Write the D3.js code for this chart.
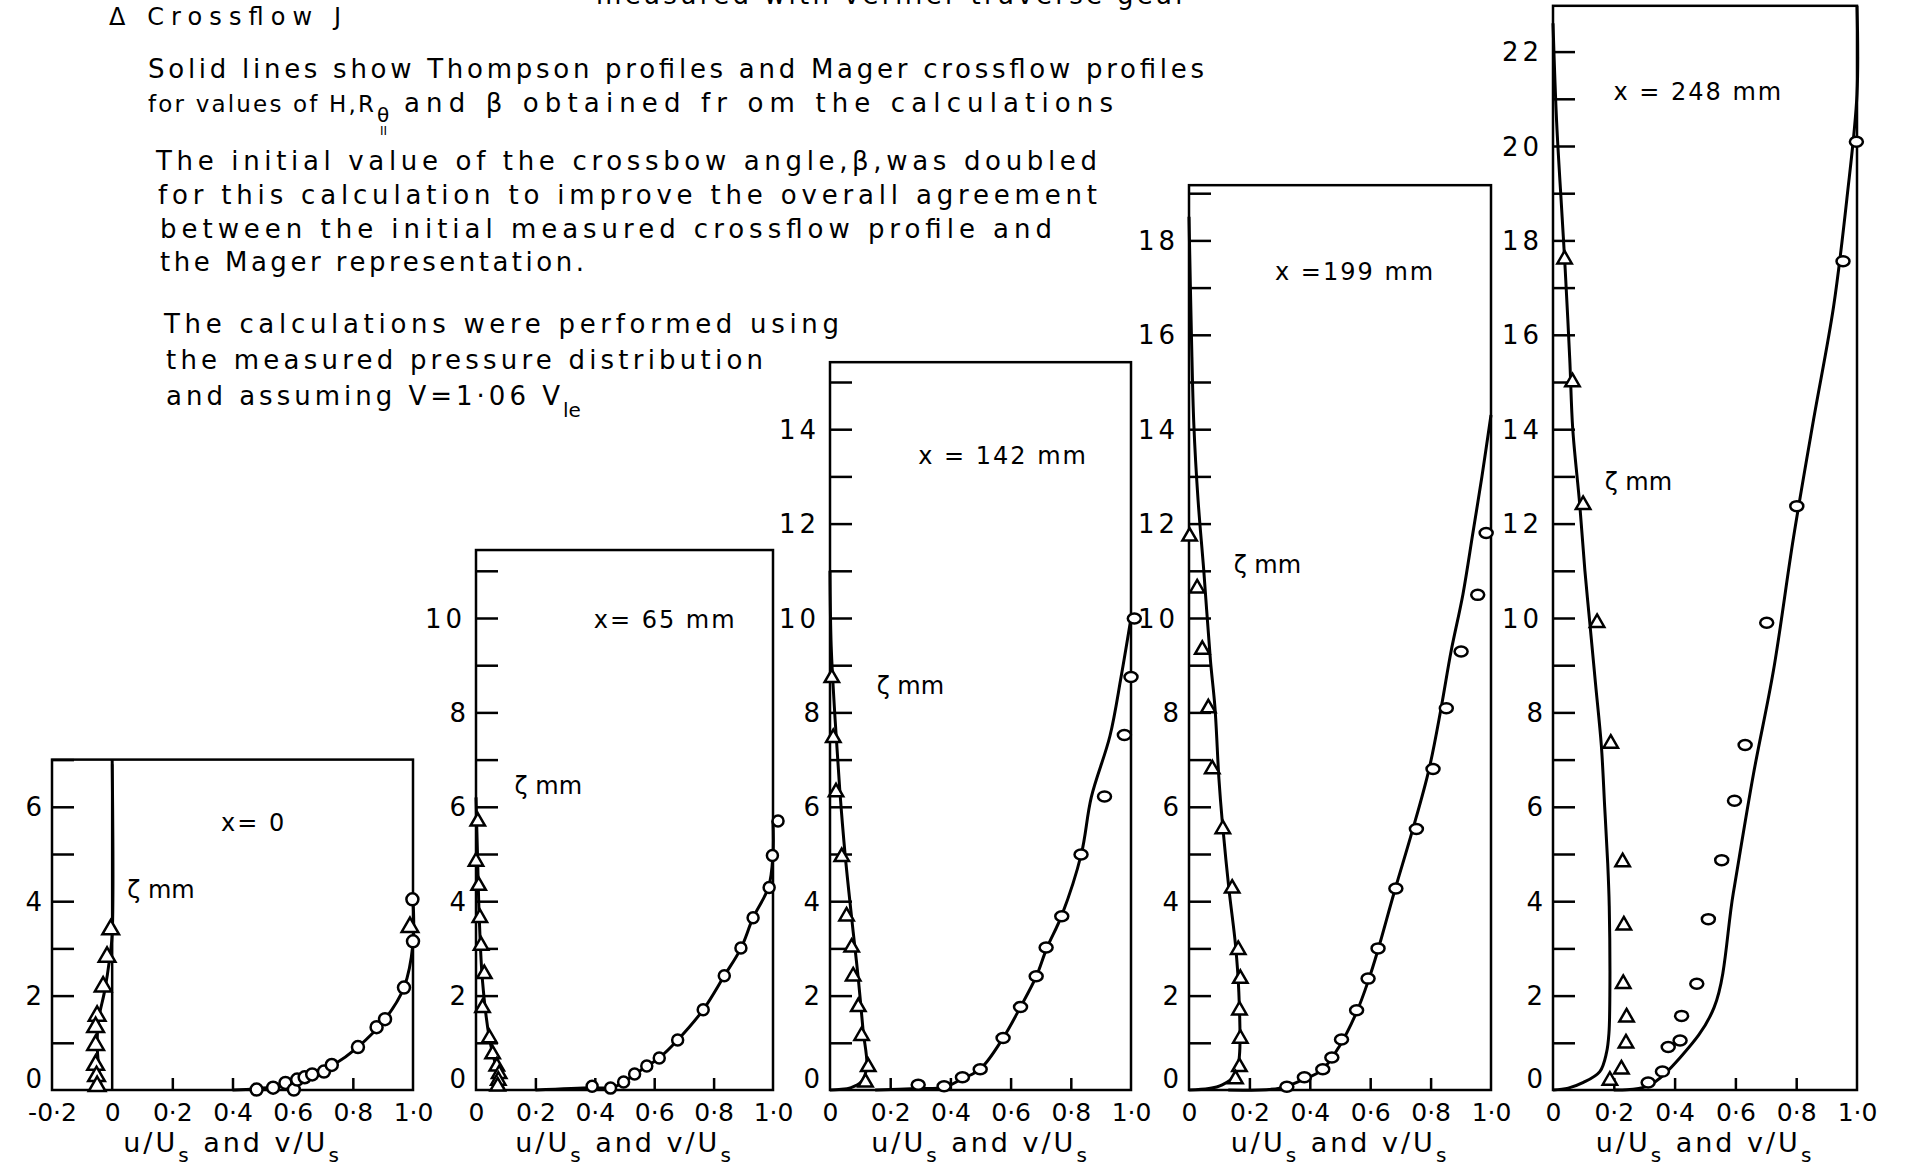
<!DOCTYPE html>
<html>
<head>
<meta charset="utf-8">
<script src="https://cdn.jsdelivr.net/npm/d3@7"></script>
<style>
body { margin: 0; background: #fff; }
svg { display: block; }
text { font-family: "DejaVu Sans", sans-serif; fill: #000; }
</style>
</head>
<body>
<svg></svg>
<script>
var width = 1907, height = 1171

// stations and axis extents (zeta in mm, velocity ratio u/Us)
var stations = ["x= 0", "x= 65 mm", "x = 142 mm", "x =199 mm", "x = 248 mm"]
var zetaTop = [7.0, 11.44, 15.42, 19.17, 22.97]
var uMin = [-0.2, 0, 0, 0, 0]
var xTickLabels = ["-0·2", "0", "0·2", "0·4", "0·6", "0·8", "1·0"]

// measured streamwise profile (circles) [u/Us, zeta]
var stream0 = [[0.48,0.01],[0.535,0.05],[0.576,0.15],[0.604,0.01],[0.615,0.22],[0.64,0.27],[0.665,0.33],[0.704,0.39],[0.73,0.53],[0.817,0.91],[0.879,1.33],[0.907,1.5],[0.97,2.17],[1.0,3.15],[0.998,4.04]]
var stream1 = [[0.391,0.08],[0.453,0.04],[0.497,0.17],[0.534,0.34],[0.575,0.51],[0.617,0.68],[0.679,1.06],[0.765,1.7],[0.836,2.42],[0.892,3.01],[0.933,3.65],[0.987,4.29],[0.998,4.97],[1.017,5.7]]
var stream2 = [[0.293,0.11],[0.379,0.08],[0.44,0.27],[0.499,0.44],[0.575,1.1],[0.633,1.76],[0.685,2.41],[0.718,3.02],[0.77,3.68],[0.834,4.99],[0.912,6.22],[0.978,7.52],[1.0,8.75],[1.011,9.99]]
var stream3 = [[0.324,0.07],[0.382,0.27],[0.443,0.44],[0.473,0.69],[0.505,1.07],[0.555,1.69],[0.593,2.36],[0.626,3.0],[0.685,4.27],[0.753,5.53],[0.808,6.8],[0.852,8.09],[0.901,9.29],[0.956,10.49],[0.984,11.8]]
var stream4 = [[0.313,0.16],[0.36,0.39],[0.379,0.91],[0.418,1.05],[0.423,1.57],[0.473,2.25],[0.511,3.62],[0.555,4.87],[0.597,6.13],[0.632,7.31],[0.703,9.9],[0.802,12.37],[0.954,17.56],[0.998,20.09]]

// measured crossflow profile (triangles)
var cross0 = [[-0.005,3.4],[-0.017,2.82],[-0.03,2.19],[-0.05,1.57],[-0.055,1.33],[-0.055,0.95],[-0.055,0.53],[-0.052,0.29],[-0.05,0.08],[0.99,3.45]]
var cross1 = [[0.006,5.69],[0,4.84],[0.009,4.33],[0.013,3.65],[0.017,3.06],[0.028,2.46],[0.022,1.74],[0.045,1.1],[0.056,0.76],[0.07,0.5],[0.078,0.34],[0.075,0.2],[0.073,0.08]]
var cross2 = [[0.006,8.73],[0.011,7.46],[0.02,6.31],[0.039,4.94],[0.055,3.68],[0.072,3.02],[0.077,2.41],[0.094,1.76],[0.105,1.15],[0.127,0.49],[0.118,0.16]]
var cross3 = [[0.002,11.73],[0.027,10.63],[0.044,9.33],[0.064,8.09],[0.077,6.8],[0.112,5.53],[0.143,4.27],[0.163,2.97],[0.17,2.36],[0.167,1.69],[0.17,1.09],[0.167,0.49],[0.154,0.23]]
var cross4 = [[0.038,17.6],[0.064,15.0],[0.099,12.4],[0.145,9.9],[0.19,7.34],[0.229,4.83],[0.233,3.49],[0.231,2.25],[0.242,1.54],[0.24,0.99],[0.225,0.44],[0.187,0.2]]

// calculated Thompson profiles (solid lines)
var streamCalc0 = [[0.4,0],[0.48,0.03],[0.58,0.12],[0.665,0.3],[0.73,0.51],[0.817,0.91],[0.907,1.5],[0.97,2.17],[1.0,3.1],[1.0,4.04]]
var streamCalc1 = [[0.2,0],[0.391,0.05],[0.453,0.05],[0.497,0.16],[0.534,0.33],[0.575,0.5],[0.617,0.68],[0.679,1.06],[0.765,1.7],[0.836,2.42],[0.892,3.0],[0.933,3.65],[0.985,4.3],[1.0,5.0],[1.0,5.7]]
var streamCalc2 = [[0.15,0],[0.29,0.03],[0.38,0.06],[0.44,0.24],[0.5,0.45],[0.575,1.1],[0.633,1.76],[0.685,2.4],[0.72,3.0],[0.77,3.7],[0.835,5.0],[0.868,6.2],[0.93,7.5],[0.967,8.75],[1.0,10.0]]
var streamCalc3 = [[0.13,0],[0.3,0.04],[0.37,0.2],[0.44,0.42],[0.5,0.95],[0.555,1.65],[0.593,2.3],[0.625,2.95],[0.68,4.2],[0.74,5.5],[0.795,6.8],[0.835,8.1],[0.868,9.3],[0.907,10.5],[0.94,11.8],[0.97,13.0],[1.0,14.3]]
var streamCalc4 = [[0.2,0],[0.31,0.08],[0.42,0.7],[0.53,1.75],[0.593,4.17],[0.659,6.68],[0.725,8.88],[0.791,11.7],[0.857,14.2],[0.923,16.6],[0.967,18.9],[1.0,21.1],[1.0,22.97]]

// calculated Mager crossflow profiles (solid lines)
var crossCalc0 = [[-0.035,0],[-0.045,0.5],[-0.05,1.0],[-0.045,1.5],[-0.025,2.1],[-0.008,2.8],[0,3.3],[0,7.0]]
var crossCalc1 = [[0,6.2],[0.005,5.0],[0.011,3.65],[0.022,2.3],[0.045,1.1],[0.067,0.51],[0.085,0.15],[0.095,0]]
var crossCalc2 = [[0,11],[0.004,9.4],[0.017,7.85],[0.032,6.4],[0.05,5.0],[0.077,3.35],[0.094,2.36],[0.11,1.26],[0.122,0.49],[0.105,0.18],[0.07,0.05],[0.03,0.01],[0,0]]
var crossCalc3 = [[0,18.5],[0.008,16],[0.016,14.1],[0.03,12.5],[0.049,11],[0.071,9.1],[0.086,8.1],[0.099,6.6],[0.11,5.7],[0.132,4.27],[0.154,3.07],[0.165,2.07],[0.167,0.73],[0.154,0.33],[0.11,0.11],[0.066,0.03],[0,0]]
var crossCalc4 = [[0,22.6],[0.012,20.5],[0.03,18.5],[0.04,17.4],[0.055,15.5],[0.065,14],[0.088,12.4],[0.105,11],[0.121,9.9],[0.14,8.6],[0.159,7.3],[0.17,6.0],[0.18,4.8],[0.185,3.9],[0.187,2.0],[0.184,1.2],[0.176,0.79],[0.154,0.39],[0.1,0.16],[0.05,0.04],[0,0]]

var streams = [stream0, stream1, stream2, stream3, stream4]
var crosses = [cross0, cross1, cross2, cross3, cross4]
var streamCalcs = [streamCalc0, streamCalc1, streamCalc2, streamCalc3, streamCalc4]
var crossCalcs = [crossCalc0, crossCalc1, crossCalc2, crossCalc3, crossCalc4]

// layout
var baseY = 1090, pxPerMm = 47.2
var panelLeft = [52, 476, 830, 1189, 1553],
    panelRight = [413, 773, 1131, 1491, 1857]
var stationPos = [[0.47, 5.66], [0.637, 9.97], [0.575, 13.45], [0.55, 17.33], [0.478, 21.15]]
var zetaPos = [[0.05, 4.24], [0.13, 6.45], [0.155, 8.56], [0.148, 11.13], [0.17, 12.9]]
var circleR = [[6, 6], [5.5, 5.5], [6.5, 5], [6.5, 5], [6.5, 5]]

var svg = d3.select("svg").attr("width", width).attr("height", height)

d3.range(5).forEach(function(i) {
    var top = zetaTop[i]
    var x = d3.scaleLinear().domain([uMin[i], 1]).range([panelLeft[i], panelRight[i]])
    var y = d3.scaleLinear().domain([0, top]).range([baseY, baseY - top * pxPerMm])
    var g = svg.append("g")

    // inward ticks on the zeta axis
    var yTicks = d3.axisRight(y).tickValues(d3.range(1, Math.floor(top) + 1)).tickSize(22).tickFormat("")
    var ya = g.append("g").attr("transform", "translate(" + x(uMin[i]) + ",0)").call(yTicks)
    ya.select(".domain").remove()
    ya.selectAll("line").attr("stroke", "#000").attr("stroke-width", 2.5)

    // zeta labels
    var yLab = d3.axisLeft(y).tickValues(d3.range(0, Math.floor(top) + 1, 2)).tickSize(0).tickPadding(10)
        .tickFormat(function(d) { return d })
    var yl = g.append("g").attr("transform", "translate(" + x(uMin[i]) + ",0)").call(yLab)
    yl.select(".domain").remove()
    yl.selectAll("text").style("font-size", "26px").style("font-family", "'DejaVu Sans'")
        .style("letter-spacing", function(d) { return d >= 10 ? "4px" : "0px" })
        .attr("dy", function(d) { return d == 0 ? "-0.1em" : "0.35em" })

    // inward ticks on the velocity axis
    var xTicks = d3.axisTop(x).tickValues([0.2, 0.4, 0.6, 0.8]).tickSize(12).tickFormat("")
    var xa = g.append("g").attr("transform", "translate(0," + baseY + ")").call(xTicks)
    xa.select(".domain").remove()
    xa.selectAll("line").attr("stroke", "#000").attr("stroke-width", 2.5)

    var xVals = i == 0 ? [-0.2, 0, 0.2, 0.4, 0.6, 0.8, 1.0] : [0, 0.2, 0.4, 0.6, 0.8, 1.0]
    var xLab = d3.axisBottom(x).tickValues(xVals).tickSize(0).tickPadding(13)
        .tickFormat(function(d, k) { return xTickLabels[xTickLabels.length - xVals.length + k] })
    var xl = g.append("g").attr("transform", "translate(0," + baseY + ")").call(xLab)
    xl.select(".domain").remove()
    xl.selectAll("text").style("font-size", "25px").style("font-family", "'DejaVu Sans'")

    // frame
    g.append("rect")
        .attr("x", x(uMin[i])).attr("y", y(top))
        .attr("width", x(1) - x(uMin[i])).attr("height", y(0) - y(top))
        .attr("fill", "none").attr("stroke", "#000").attr("stroke-width", 2.5)

    if (uMin[i] < 0) {
        g.append("line").attr("x1", x(0)).attr("x2", x(0)).attr("y1", y(0)).attr("y2", y(top - 0.1))
            .attr("stroke", "#000").attr("stroke-width", 2.5)
    }

    var line = d3.line().x(function(d) { return x(d[0]) }).y(function(d) { return y(d[1]) })
        .curve(d3.curveCatmullRom.alpha(0.5))

    g.append("path").datum(streamCalcs[i]).attr("d", line)
        .attr("fill", "none").attr("stroke", "#000").attr("stroke-width", 3)
    g.append("path").datum(crossCalcs[i]).attr("d", line)
        .attr("fill", "none").attr("stroke", "#000").attr("stroke-width", 3)

    g.selectAll(".tri").data(crosses[i]).enter().append("path")
        .attr("transform", function(d) { return "translate(" + x(d[0]) + "," + y(d[1]) + ")" })
        .attr("d", d3.symbol().type(d3.symbolTriangle).size(i == 0 ? 120 : 90))
        .attr("fill", "#fff").attr("stroke", "#000").attr("stroke-width", 2.5)

    g.selectAll(".circ").data(streams[i]).enter().append("ellipse")
        .attr("cx", function(d) { return x(d[0]) })
        .attr("cy", function(d) { return y(d[1]) })
        .attr("rx", circleR[i][0]).attr("ry", circleR[i][1])
        .attr("fill", "#fff").attr("stroke", "#000").attr("stroke-width", 2.5)

    // station label and zeta label
    g.append("text").attr("x", x(stationPos[i][0])).attr("y", y(stationPos[i][1]))
        .attr("text-anchor", "middle").attr("dy", "0.35em")
        .style("font-size", "24px").style("letter-spacing", "2px")
        .text(stations[i])
    g.append("text").attr("x", x(zetaPos[i][0])).attr("y", y(zetaPos[i][1]))
        .attr("dy", "0.35em").style("font-size", "24px")
        .text("ζ mm")

    // axis title u/Us and v/Us
    var t = g.append("text").attr("x", (x(uMin[i]) + x(1)) / 2).attr("y", 1152)
        .attr("text-anchor", "middle").style("font-size", "27px").style("letter-spacing", "3px")
    t.append("tspan").text("u/U")
    t.append("tspan").attr("dy", 10).style("font-size", "20px").text("s")
    t.append("tspan").attr("dy", -10).text(" and v/U")
    t.append("tspan").attr("dy", 10).style("font-size", "20px").text("s")
})

// notes at the top
var notes = [
    ["measured with vernier traverse gear", 596, 4, 590, 26],
    ["Solid lines show Thompson profiles  and Mager crossflow profiles", 148, 78, 1056, 26],
    ["The initial value of the crossbow angle,β,was doubled", 156, 170, 941, 26],
    ["for this calculation to improve the overall agreement", 158, 204, 939, 26],
    ["between the initial measured crossflow profile and", 160, 238, 892, 26],
    ["the Mager representation.", 160, 271, 424, 26],
    ["The calculations were performed using", 164, 333, 675, 26],
    ["the measured pressure distribution", 166, 369, 597, 26],
    ["Δ Crossflow J", 109, 25, 232, 24],
    ["for values of H,R", 148, 112, 226, 23],
    ["and β obtained fr om the calculations", 404, 112, 709, 26],
    ["and assuming  V=1·06 V", 166, 405, 394, 26]
]
svg.selectAll(".note").data(notes).enter().append("text")
    .attr("x", function(d) { return d[1] }).attr("y", function(d) { return d[2] })
    .attr("textLength", function(d) { return d[3] }).attr("lengthAdjust", "spacing")
    .style("font-size", function(d) { return d[4] + "px" })
    .text(function(d) { return d[0] })

svg.append("text").attr("x", 377).attr("y", 122).style("font-size", "20px").text("θ")
svg.append("text").attr("x", 380).attr("y", 135).style("font-size", "12px").text("II")
svg.append("text").attr("x", 563).attr("y", 417).style("font-size", "20px").text("le")
</script>
</body>
</html>
